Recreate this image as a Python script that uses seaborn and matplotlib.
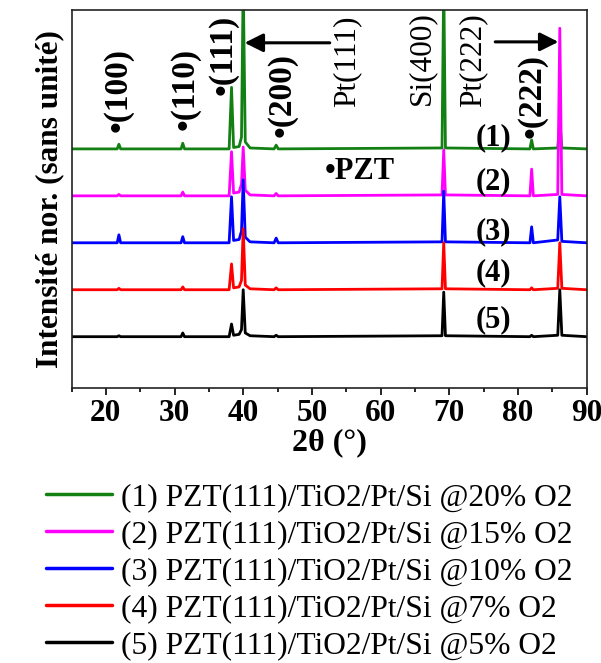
import numpy as np
import pandas as pd
import matplotlib
matplotlib.use("Agg")
import matplotlib.pyplot as plt
import seaborn as sns
from matplotlib.lines import Line2D
from matplotlib.ticker import MultipleLocator

sns.set_style("ticks")
plt.rcParams['font.family'] = ['Liberation Serif', 'DejaVu Serif']
plt.rcParams['text.color'] = 'black'
plt.rcParams['axes.labelcolor'] = 'black'
plt.rcParams['xtick.color'] = 'black'
plt.rcParams['ytick.color'] = 'black'

# 2theta key points (baseline, peak shoulders and tops)
two_theta = [15, 21.65, 21.9, 22.15, 30.95, 31.2, 31.45, 37.95, 38.3, 38.6, 39.4, 39.75, 40.0,
             40.3, 41.0, 44.5, 44.8, 45.1, 68.95, 69.2, 69.45, 81.75, 82.0, 82.25,
             85.8, 86.1, 86.4, 90]

# intensities above each curve's own baseline (one offset unit = spacing between curves)
s1_20 = [0, 0, 0.10, 0, 0, 0.12, 0, 0, 1.31, 0.03, 0.05, 0.25, 3.60, 0.15, 0.02,
         0, 0.08, 0, 0.02, 3.60, 0.02, 0, 0.19, 0, 0.02, 0.59, 0.02, 0]
s2_15 = [0, 0, 0.03, 0, 0, 0.08, 0, 0, 0.94, 0.06, 0.08, 0.25, 1.04, 0.12, 0.02,
         0, 0.05, 0, 0.02, 0.98, 0.02, 0, 0.57, 0, 0.03, 3.57, 0.03, 0]
s3_10 = [0, 0, 0.17, 0, 0, 0.13, 0, 0, 0.98, 0.05, 0.07, 0.25, 1.34, 0.12, 0.02,
         0, 0.10, 0, 0.02, 1.10, 0.02, 0, 0.34, 0, 0.06, 0.98, 0.03, 0]
s4_7 = [0, 0, 0.03, 0, 0, 0.06, 0, 0, 0.55, 0.04, 0.06, 0.20, 1.30, 0.10, 0.02,
        0, 0.04, 0, 0.02, 1.00, 0.02, 0, 0.04, 0, 0.03, 1.00, 0.03, 0]
s5_5 = [0, 0, 0.02, 0, 0, 0.08, 0, 0, 0.27, 0.03, 0.05, 0.15, 1.00, 0.08, 0.02,
        0, 0.03, 0, 0.02, 0.95, 0.02, 0, 0.03, 0, 0.03, 1.00, 0.03, 0]

offsets = [4, 3, 2, 1, 0]
labels = ["(1) PZT(111)/TiO2/Pt/Si @20% O2",
          "(2) PZT(111)/TiO2/Pt/Si @15% O2",
          "(3) PZT(111)/TiO2/Pt/Si @10% O2",
          "(4) PZT(111)/TiO2/Pt/Si @7% O2",
          "(5) PZT(111)/TiO2/Pt/Si @5% O2"]
colors = ["#138013", "#ff00ff", "#0000ff", "#ff0000", "#000000"]
curve_tags = ["(1)", "(2)", "(3)", "(4)", "(5)"]

series = [s1_20, s2_15, s3_10, s4_7, s5_5]
frames = []
for lab, vals, off in zip(labels, series, offsets):
    frames.append(pd.DataFrame({"x": two_theta, "y": np.array(vals) + off, "sample": lab}))
df = pd.concat(frames, ignore_index=True)

fig = plt.figure(figsize=(6.01, 6.63), dpi=100)
ax = fig.add_axes([0.119, 0.415, 0.857, 0.570])

sns.lineplot(data=df, x="x", y="y", hue="sample", hue_order=labels,
             palette=colors, estimator=None, sort=False, lw=2.0, legend=False, ax=ax)

ax.set_xlim(15, 90)
ax.set_ylim(-1.09, 6.96)
ax.set_yticks([])
ax.xaxis.set_major_locator(MultipleLocator(10))
ax.xaxis.set_minor_locator(MultipleLocator(5))
ax.tick_params(axis='x', which='major', direction='out', length=5, width=1.2,
               labelsize=22.5, pad=3)
ax.tick_params(axis='x', which='minor', direction='out', length=3, width=1.2)
for lbl in ax.get_xticklabels():
    lbl.set_fontweight('bold')
for sp in ax.spines.values():
    sp.set_visible(True)
    sp.set_linewidth(1.2)
    sp.set_color('#222222')

ax.set_xlabel("2θ (°)", fontsize=23, fontweight='bold', labelpad=0)
ax.set_ylabel("Intensité nor. (sans unité)", fontsize=22.5, fontweight='bold', labelpad=5)

# peak labels
hkl_bold = [(21.8, 4.36, "•(100)"), (31.5, 4.40, "•(110)"), (37.1, 5.15, "•(111)"),
            (45.7, 4.26, "•(200)"), (82.0, 4.23, "•(222)")]
for x, y, t in hkl_bold:
    ax.text(x, y, t, rotation=90, ha='center', va='bottom', fontsize=24, fontweight='bold')
plain = [(55.1, 4.89, "Pt(111)"), (66.0, 4.94, "Si(400)"), (73.5, 4.89, "Pt(222)")]
for x, y, t in plain:
    ax.text(x, y, t, rotation=90, ha='center', va='bottom', fontsize=22.5)

ax.text(57.0, 3.51, "•PZT", ha='center', va='center', fontsize=22, fontweight='bold')
tag_y = [4.23, 3.30, 2.23, 1.36, 0.36]
for t, y in zip(curve_tags, tag_y):
    ax.text(76.4, y, t, ha='center', va='center', fontsize=22, fontweight='bold')

ax.annotate("", xy=(40.2, 6.26), xytext=(52.6, 6.26),
            arrowprops=dict(arrowstyle='-|>', lw=2.2, color='black', mutation_scale=28,
                            shrinkA=0, shrinkB=0))
ax.annotate("", xy=(85.9, 6.28), xytext=(76.7, 6.28),
            arrowprops=dict(arrowstyle='-|>', lw=2.2, color='black', mutation_scale=28,
                            shrinkA=0, shrinkB=0))

handles = [Line2D([0], [0], color=c, lw=2.5) for c in colors]
fig.legend(handles, labels, loc='upper left', bbox_to_anchor=(0.055, 0.29),
           frameon=False, fontsize=22.7, handlelength=2.1, handletextpad=0.3,
           labelspacing=0.25, borderaxespad=0)

fig.savefig("out.png", dpi=100)
